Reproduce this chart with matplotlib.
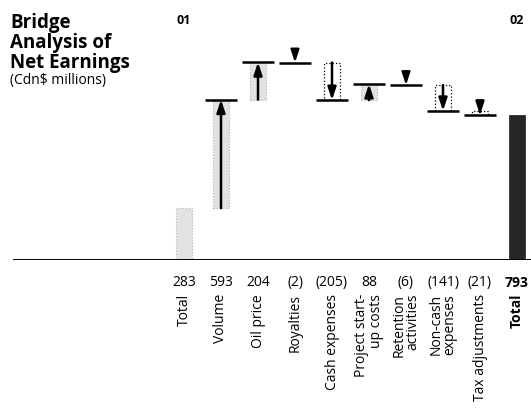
import numpy as np
import matplotlib
matplotlib.use('Agg')
import matplotlib.pyplot as plt
from matplotlib.transforms import blended_transform_factory

# data
categories = ['Total', 'Volume', 'Oil price', 'Royalties', 'Cash expenses',
              'Project start-\nup costs', 'Retention\nactivities',
              'Non-cash\nexpenses', 'Tax adjustments', 'Total']
changes = [283, 593, 204, -2, -205, 88, -6, -141, -21, 793]
value_labels = ['283', '593', '204', '(2)', '(205)', '88', '(6)', '(141)', '(21)', '793']
year_labels = ['01', '02']
title_lines = ['Bridge', 'Analysis of', 'Net Earnings']
subtitle = '(Cdn$ millions)'

plt.rcParams['font.family'] = ['Open Sans', 'DejaVu Sans']

fig = plt.figure(figsize=(5.31, 4.10), dpi=100)
W, H = 531, 410
base_px = 261
ax = fig.add_axes([13 / W, (H - base_px) / H, (W - 13) / W, base_px / H])
px_per_unit = 1 / 5.46
ax.set_ylim(0, base_px / px_per_unit)
step = 37
x0 = 184
ax.set_xlim(-(x0 - 13) / step, (W - x0) / step)
ax.axis('off')

ax.axhline(0, color='black', lw=1.4)

n = len(changes)
bw = 0.42
hw = 0.44
small = 10
head = '-|>,head_length=0.75,head_width=0.25'

# starting total
ax.bar(0, changes[0], width=bw, color='#e2e2e2', edgecolor='#b5b5b5',
       linestyle=':', lw=0.8)

level = changes[0]
for i in range(1, n - 1):
    start = level
    end = level + changes[i]
    lo, hi = min(start, end), max(start, end)
    if abs(changes[i]) > small:
        if changes[i] > 0:
            ax.bar(i, hi - lo, bottom=lo, width=bw, color='#e2e2e2',
                   edgecolor='#b0b0b0', linestyle=':', lw=0.8)
        else:
            ax.bar(i, hi - lo, bottom=lo, width=bw, color='white',
                   edgecolor='black', linestyle=':', lw=0.9)
        ax.annotate('', xy=(i, end), xytext=(i, start),
                    arrowprops=dict(arrowstyle=head, color='black', lw=1.8,
                                    shrinkA=0, shrinkB=0))
    else:
        ax.annotate('', xy=(i, end), xytext=(0, 7), textcoords='offset points',
                    arrowprops=dict(arrowstyle=head, color='black', lw=1.6,
                                    shrinkA=0, shrinkB=0))
    ax.hlines(end, i - hw, i + hw, color='black', lw=1.8)
    level = end

# final total
ax.bar(n - 1, changes[-1], width=bw, color='#262626', edgecolor='#1a1a1a', lw=0.5)

# value labels and category labels
tr = blended_transform_factory(ax.transData, fig.transFigure)
for i in range(n):
    bold = i == n - 1
    ax.text(i, 1 - 283 / H, value_labels[i], transform=tr, ha='center', va='center',
            fontsize=10, fontweight='bold' if bold else 'normal')
    ax.text(i, 1 - 294 / H, categories[i], transform=tr, ha='center', va='top',
            rotation=90, multialignment='right', fontsize=10, linespacing=0.95,
            fontweight='bold' if bold else 'normal')

ax.text(0, 1 - 20 / H, year_labels[0], transform=tr, ha='center', va='center',
        fontsize=9, fontweight='bold')
ax.text(n - 1, 1 - 20 / H, year_labels[1], transform=tr, ha='center', va='center',
        fontsize=9, fontweight='bold')

# title, one line at a time
for k, line in enumerate(title_lines):
    fig.text(10 / W, 1 - (28 + 20 * k) / H, line, ha='left', va='baseline',
             fontsize=13.5, fontweight='bold')
fig.text(10 / W, 1 - 84 / H, subtitle, ha='left', va='baseline', fontsize=10)

fig.savefig('out.png', dpi=100)
